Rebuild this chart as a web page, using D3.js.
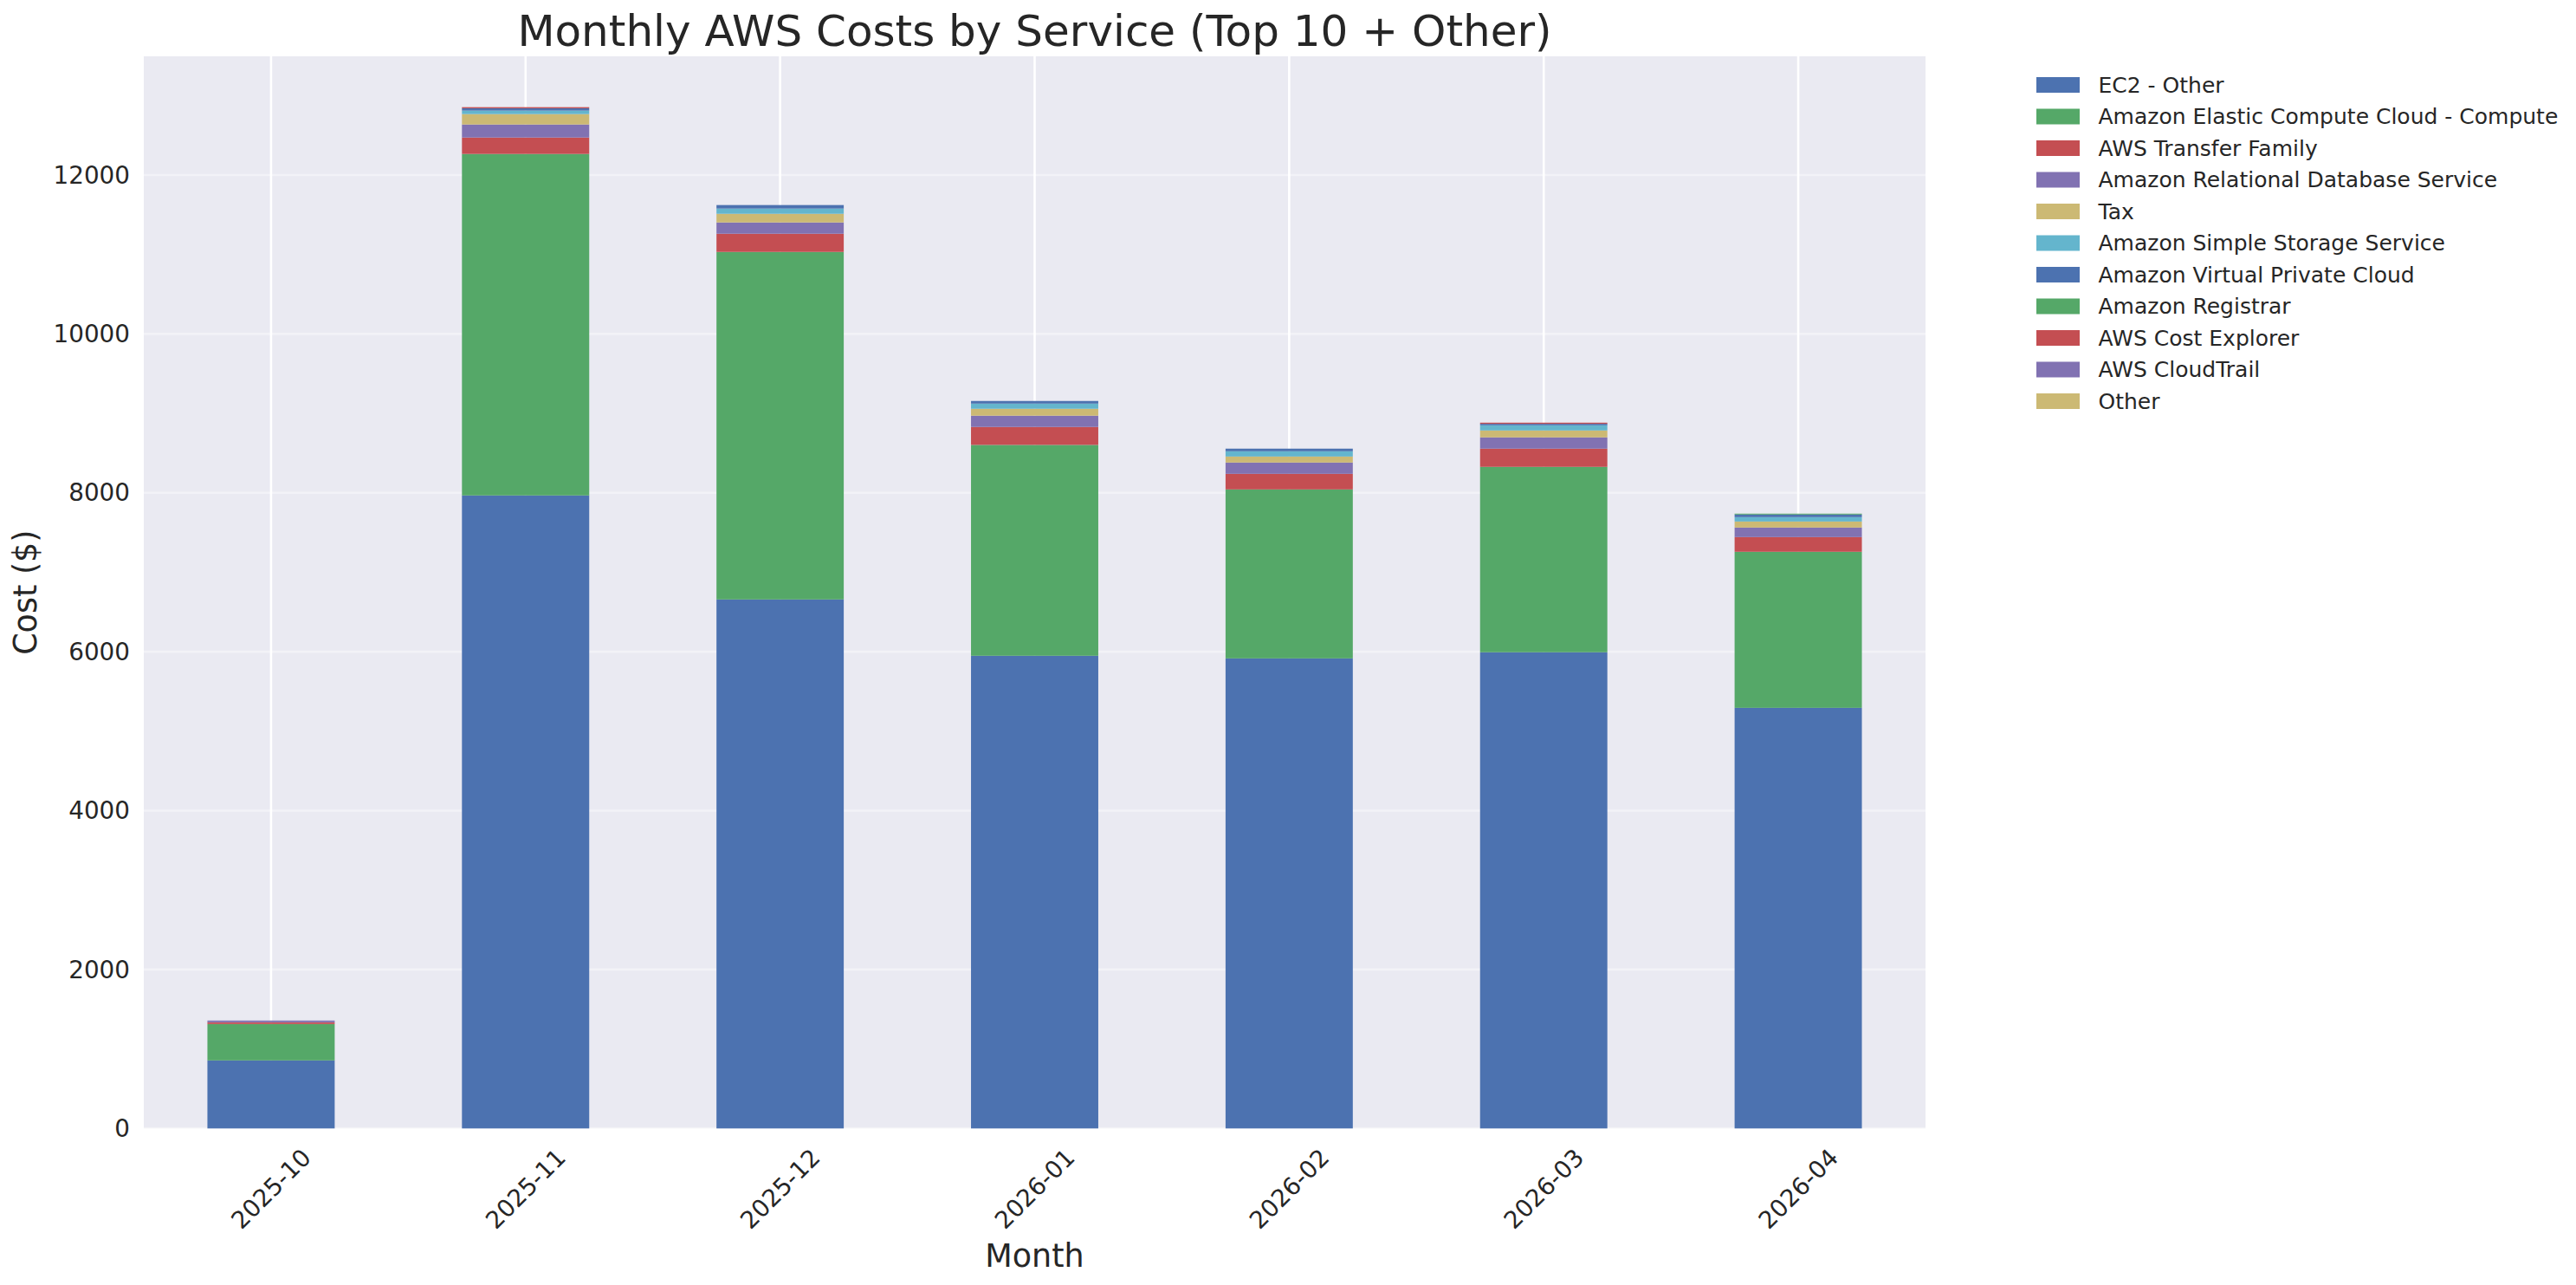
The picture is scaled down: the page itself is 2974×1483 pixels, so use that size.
<!DOCTYPE html>
<html>
<head>
<meta charset="utf-8">
<script src="https://cdn.jsdelivr.net/npm/d3@7"></script>
<style>
  body { margin: 0; background: #fff; }
  text { font-family: "DejaVu Sans", sans-serif; fill: #262626; }
</style>
</head>
<body>
<div id="chart"></div>
<script>
/* DATA */
const months = ["2025-10", "2025-11", "2025-12", "2026-01", "2026-02", "2026-03", "2026-04"];
const services = [
  "EC2 - Other",
  "Amazon Elastic Compute Cloud - Compute",
  "AWS Transfer Family",
  "Amazon Relational Database Service",
  "Tax",
  "Amazon Simple Storage Service",
  "Amazon Virtual Private Cloud",
  "Amazon Registrar",
  "AWS Cost Explorer",
  "AWS CloudTrail",
  "Other"
];
const ec2Other     = [856, 7967, 6658, 5949, 5916, 5993, 5294];
const ec2Compute   = [458, 4298, 4374, 2654, 2127, 2334, 1964];
const transfer     = [22, 207, 229, 226, 196, 229, 185];
const rds          = [22, 164, 142, 142, 142, 142, 120];
const tax          = [0, 131, 109, 87, 76, 87, 76];
const s3           = [0, 44, 66, 65, 66, 65, 55];
const vpc          = [0, 29, 44, 33, 33, 19, 33];
const registrar    = [0, 0, 0, 0, 0, 0, 11];
const costExplorer = [0, 14, 0, 0, 0, 14, 0];
const cloudTrail   = [0, 0, 0, 0, 0, 0, 0];
const other        = [0, 0, 0, 0, 0, 0, 0];
const yTicks = [0, 2000, 4000, 6000, 8000, 10000, 12000];

const seriesValues = [ec2Other, ec2Compute, transfer, rds, tax, s3, vpc,
  registrar, costExplorer, cloudTrail, other];
const colors = ["#4C72B0", "#55A868", "#C44E52", "#8172B2", "#CCB974", "#64B5CD",
  "#4C72B0", "#55A868", "#C44E52", "#8172B2", "#CCB974"];

// table for d3.stack
const table = months.map((m, i) => {
  const row = { month: m };
  services.forEach((s, j) => row[s] = seriesValues[j][i]);
  return row;
});

/* LAYOUT */
const width = 2974, height = 1483;
const margin = { top: 65, bottom: 180.7, left: 166, right: 751 };

const svg = d3.select("#chart").append("svg")
  .attr("width", width)
  .attr("height", height);

const xScale = d3.scaleBand()
  .domain(months)
  .range([margin.left, width - margin.right])
  .paddingInner(0.5)
  .paddingOuter(0.25);

const yScale = d3.scaleLinear()
  .domain([0, 13494])
  .range([height - margin.bottom, margin.top]);

// background
svg.append("rect")
  .attr("x", margin.left)
  .attr("y", margin.top)
  .attr("width", width - margin.right - margin.left)
  .attr("height", height - margin.bottom - margin.top)
  .attr("fill", "#EAEAF2");

// grid
svg.append("g")
  .selectAll("line")
  .data(yTicks)
  .join("line")
  .attr("x1", margin.left)
  .attr("x2", width - margin.right)
  .attr("y1", d => yScale(d))
  .attr("y2", d => yScale(d))
  .attr("stroke", "#fff")
  .attr("stroke-opacity", 0.4)
  .attr("stroke-width", 2.6);

svg.append("g")
  .selectAll("line")
  .data(months)
  .join("line")
  .attr("x1", d => xScale(d) + xScale.bandwidth() / 2)
  .attr("x2", d => xScale(d) + xScale.bandwidth() / 2)
  .attr("y1", margin.top)
  .attr("y2", height - margin.bottom)
  .attr("stroke", "#fff")
  .attr("stroke-width", 2.6);

// stacked bars
const stacked = d3.stack().keys(services)(table);

svg.append("g")
  .selectAll("g")
  .data(stacked)
  .join("g")
  .attr("fill", (d, i) => colors[i])
  .selectAll("rect")
  .data(d => d)
  .join("rect")
  .attr("x", d => xScale(d.data.month))
  .attr("width", xScale.bandwidth())
  .attr("y", d => yScale(d[1]))
  .attr("height", d => yScale(d[0]) - yScale(d[1]));

// y tick labels
svg.append("g")
  .selectAll("text")
  .data(yTicks)
  .join("text")
  .attr("x", margin.left - 16)
  .attr("y", d => yScale(d))
  .attr("dy", "0.35em")
  .attr("text-anchor", "end")
  .attr("font-size", 27.8)
  .text(d => d);

// x tick labels
svg.append("g")
  .selectAll("text")
  .data(months)
  .join("text")
  .attr("transform", d => `translate(${xScale(d) + xScale.bandwidth() / 2},1372) rotate(-45)`)
  .attr("text-anchor", "middle")
  .attr("dy", "0.35em")
  .attr("font-size", 27.8)
  .text(d => d);

// titles
svg.append("text")
  .attr("x", (margin.left + width - margin.right) / 2)
  .attr("y", 52.7)
  .attr("text-anchor", "middle")
  .attr("font-size", 50)
  .text("Monthly AWS Costs by Service (Top 10 + Other)");

svg.append("text")
  .attr("x", (margin.left + width - margin.right) / 2)
  .attr("y", 1462)
  .attr("text-anchor", "middle")
  .attr("font-size", 36.5)
  .text("Month");

svg.append("text")
  .attr("transform", `translate(42,${(margin.top + height - margin.bottom) / 2}) rotate(-90)`)
  .attr("text-anchor", "middle")
  .attr("font-size", 36.5)
  .text("Cost ($)");

// legend
const legend = svg.append("g")
  .selectAll("g")
  .data(services)
  .join("g")
  .attr("transform", (d, i) => `translate(2351,${98 + i * 36.5})`);

legend.append("rect")
  .attr("x", 0)
  .attr("y", -9)
  .attr("width", 50)
  .attr("height", 18)
  .attr("fill", (d, i) => colors[i]);

legend.append("text")
  .attr("x", 71.5)
  .attr("dy", "0.35em")
  .attr("font-size", 25)
  .text(d => d);
</script>
</body>
</html>
